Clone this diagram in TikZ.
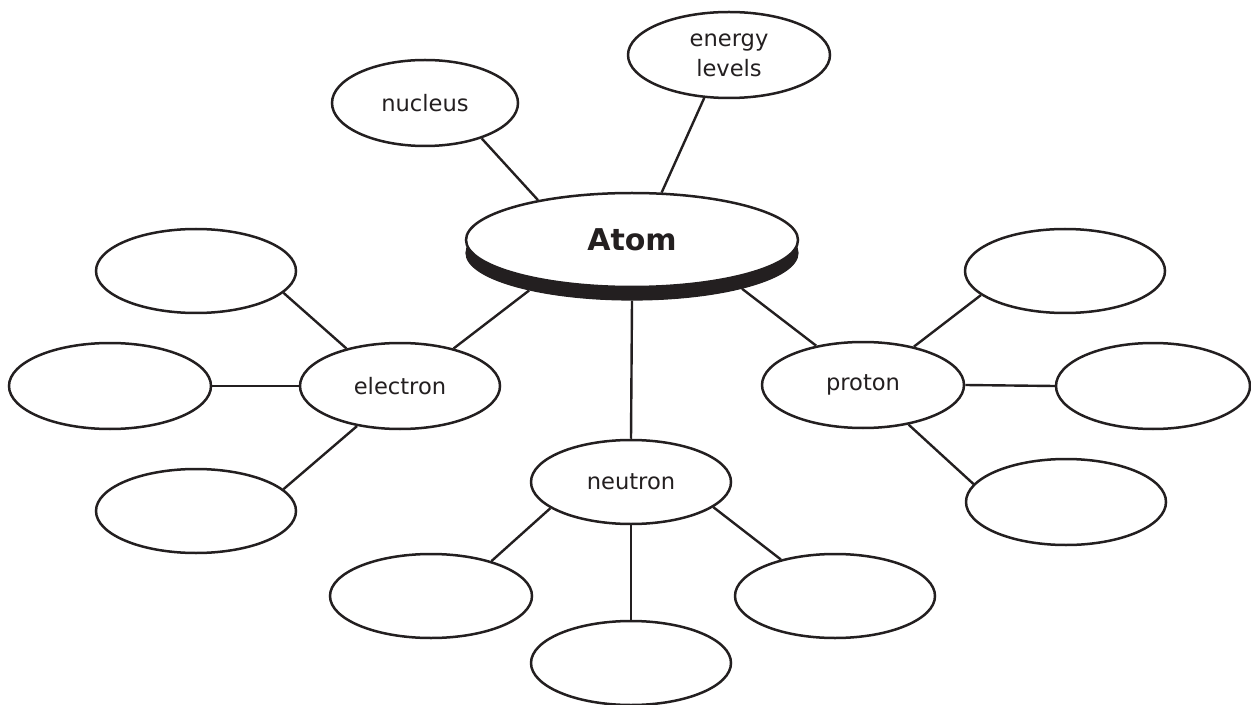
\documentclass[tikz,border=0pt]{standalone}
\usepackage{fontspec}
\setmainfont{DejaVu Sans}
\usetikzlibrary{shapes.geometric}
\definecolor{ink}{HTML}{231F20}
\begin{document}
\begin{tikzpicture}[x=0.5pt,y=-0.5pt,
  bub/.style={ellipse,draw=ink,line width=1.25pt,fill=white,inner sep=0pt,
    font=\fontsize{11.3}{15}\selectfont,text=ink,align=center},
  link/.style={draw=ink,line width=1.2pt}]
\useasboundingbox (0,0) rectangle (1251,705);
% nodes
\node[bub,minimum width=93pt,minimum height=43pt] (nucleus) at (425,103) {nucleus};
\node[bub,minimum width=101pt,minimum height=43pt] (energy) at (729,55) {energy\\levels};
% atom with shadow
\node[ellipse,fill=ink,draw=ink,line width=0.6pt,inner sep=0pt,minimum width=166pt,minimum height=47pt] (atomsh) at (632,253) {};
\node[bub,minimum width=166pt,minimum height=47pt,font=\fontsize{15}{18}\selectfont\bfseries] (atom) at (632,240) {Atom};
\node[bub,minimum width=100pt,minimum height=42pt] (L1) at (196,271) {};
\node[bub,minimum width=101pt,minimum height=43pt] (L2) at (110,386) {};
\node[bub,minimum width=100pt,minimum height=42pt] (L3) at (196,511) {};
\node[bub,minimum width=100pt,minimum height=43pt] (electron) at (400,386) {electron};
\node[bub,minimum width=100pt,minimum height=42pt] (neutron) at (631,482) {neutron};
\node[bub,minimum width=101pt,minimum height=42pt] (N1) at (431,596) {};
\node[bub,minimum width=100pt,minimum height=42pt] (N2) at (631,663) {};
\node[bub,minimum width=100pt,minimum height=42pt] (N3) at (835,596) {};
\node[bub,minimum width=101pt,minimum height=43pt] (proton) at (863,385) {proton};
\node[bub,minimum width=100pt,minimum height=42pt] (P1) at (1065,271) {};
\node[bub,minimum width=97pt,minimum height=43pt] (P2) at (1153,386) {};
\node[bub,minimum width=100pt,minimum height=43pt] (P3) at (1066,502) {};
% connectors
\path[link] (nucleus.-32.5) -- (atom.157.6);
\path[link] (energy.240.3) -- (atom.58.3);
\path[link] (atomsh.200) -- (electron.35.4);
\path[link] (atomsh.342.1) -- (proton.140);
\path[link] (atomsh.270) -- (neutron.90);
\path[link] (electron.145.8) -- (L1.-14);
\path[link] (electron.180) -- (L2.0);
\path[link] (electron.223.7) -- (L3.14.3);
\path[link] (neutron.198.9) -- (N1.30.2);
\path[link] (neutron.270) -- (N2.90);
\path[link] (neutron.343.2) -- (N3.146.7);
\path[link] (proton.37.9) -- (P1.196.3);
\path[link] (proton.0) -- (P2.180);
\path[link] (proton.319.4) -- (P3.169.8);
\end{tikzpicture}
\end{document}
